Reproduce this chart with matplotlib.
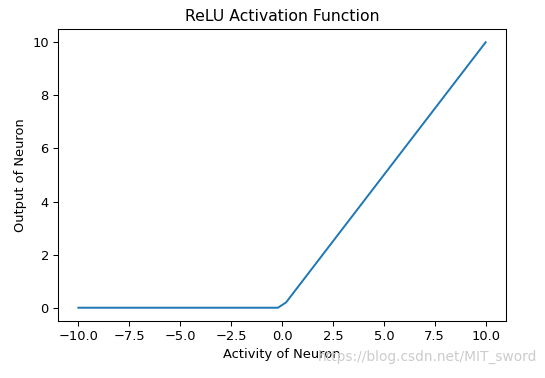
import matplotlib
matplotlib.use("Agg")
import matplotlib.pyplot as plt

# points (ReLU curve)
activity = [-10.0, -0.2, 0.2, 10.0]
output = [0.0, 0.0, 0.2, 10.0]

dpi = 94
fig = plt.figure(figsize=(545 / dpi, 378 / dpi), dpi=dpi)
ax = fig.add_axes([58 / 545, 1 - 321 / 378, 448 / 545, 292 / 378])

ax.plot(activity, output, color="#1f77b4", linewidth=1.5)
ax.set_title("ReLU Activation Function")
ax.set_xlabel("Activity of Neuron")
ax.set_ylabel("Output of Neuron")

fig.text(0.985, 0.055, "https://blog.csdn.net/MIT_sword", color="#cccccc",
         fontsize=10.5, ha="right", va="center")

fig.savefig("out.png", dpi=dpi)
